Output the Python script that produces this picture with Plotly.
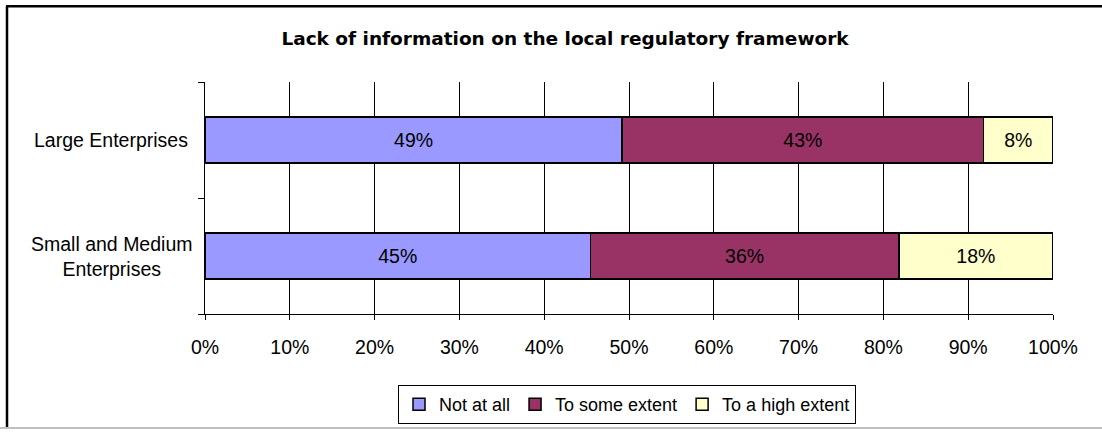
import plotly.graph_objects as go

categories = ["Small and Medium Enterprises", "Large Enterprises"]
category_labels = ["Small and Medium<br>Enterprises", "Large Enterprises"]
series_names = ["Not at all", "To some extent", "To a high extent"]
not_at_all = [45.45, 49.2]
to_some_extent = [36.36, 42.6]
to_a_high_extent = [18.19, 8.2]
value_labels = [["45%", "49%"], ["36%", "43%"], ["18%", "8%"]]
x_ticks = [0, 10, 20, 30, 40, 50, 60, 70, 80, 90, 100]
x_tick_labels = [f"{v}%" for v in x_ticks]
title_text = "Lack of information on the local regulatory framework"

colors = ["#9999FF", "#993366", "#FFFFCC"]
FONT = "Liberation Sans, Arial, sans-serif"

fig = go.Figure()
for name, vals, col, labs in zip(series_names, [not_at_all, to_some_extent, to_a_high_extent], colors, value_labels):
    fig.add_trace(go.Bar(
        y=categories, x=vals, name=name, orientation="h",
        marker=dict(color=col, line=dict(color="#000000", width=1.5)),
        text=labs, textposition="inside", insidetextanchor="middle",
        textfont=dict(family=FONT, size=19.5, color="#000000"),
        width=0.4, hoverinfo="skip",
    ))

for cat, lab in zip(categories, category_labels):
    fig.add_annotation(x=-0.1108, xref="paper", xanchor="center", y=cat, yref="y",
                       text=lab, showarrow=False, align="center",
                       font=dict(family=FONT, size=19.5, color="#000000"))

W, H = 1102, 436
L, R, T, B = 205, 1053, 82, 318
def px(x): return (x - L) / (R - L)
def py(y): return (B - y) / (B - T)

fig.add_shape(type="line", xref="paper", yref="paper", x0=px(6), x1=px(1102), y0=py(5), y1=py(5),
              line=dict(color="#000000", width=2.5))
fig.add_shape(type="line", xref="paper", yref="paper", x0=px(7), x1=px(7), y0=py(5), y1=py(434),
              line=dict(color="#000000", width=2.5))
fig.add_shape(type="line", xref="paper", yref="paper", x0=px(0), x1=px(1102), y0=py(434), y1=py(434),
              line=dict(color="#C0C0C0", width=2))

fig.update_layout(
    width=W, height=H,
    margin=dict(l=L, r=W - R, t=T, b=H - B, pad=0),
    barmode="stack",
    plot_bgcolor="#FFFFFF", paper_bgcolor="#FFFFFF",
    title=dict(text="<b>" + title_text + "</b>", x=565 / W, xref="container", xanchor="center",
               y=1 - 39 / H, yanchor="middle",
               font=dict(family="DejaVu Sans, Verdana, sans-serif", size=18.5, color="#000000")),
    xaxis=dict(range=[0, 100], tickvals=x_ticks, ticktext=x_tick_labels,
               showgrid=True, gridcolor="#000000", gridwidth=1,
               showline=True, linecolor="#000000", linewidth=1,
               ticks="outside", ticklen=5, tickcolor="#000000",
               ticklabelstandoff=11,
               tickfont=dict(family=FONT, size=19.5, color="#000000"),
               zeroline=False, fixedrange=True),
    yaxis=dict(range=[-0.5, 1.5], categoryorder="array", categoryarray=categories,
               showticklabels=False, showgrid=False, tickson="boundaries",
               ticks="outside", ticklen=6, tickcolor="#000000",
               showline=True, linecolor="#000000", linewidth=1, fixedrange=True),
    showlegend=True,
    legend=dict(orientation="h", x=px(627), xanchor="center", y=py(410), yanchor="middle",
                bordercolor="#000000", borderwidth=1, bgcolor="#FFFFFF",
                font=dict(family=FONT, size=18, color="#000000"),
                traceorder="normal", itemwidth=30),
)

fig.write_html("out.html", config={"displayModeBar": False},
               post_script="document.body.style.margin='0px';document.body.style.overflow='hidden';")
